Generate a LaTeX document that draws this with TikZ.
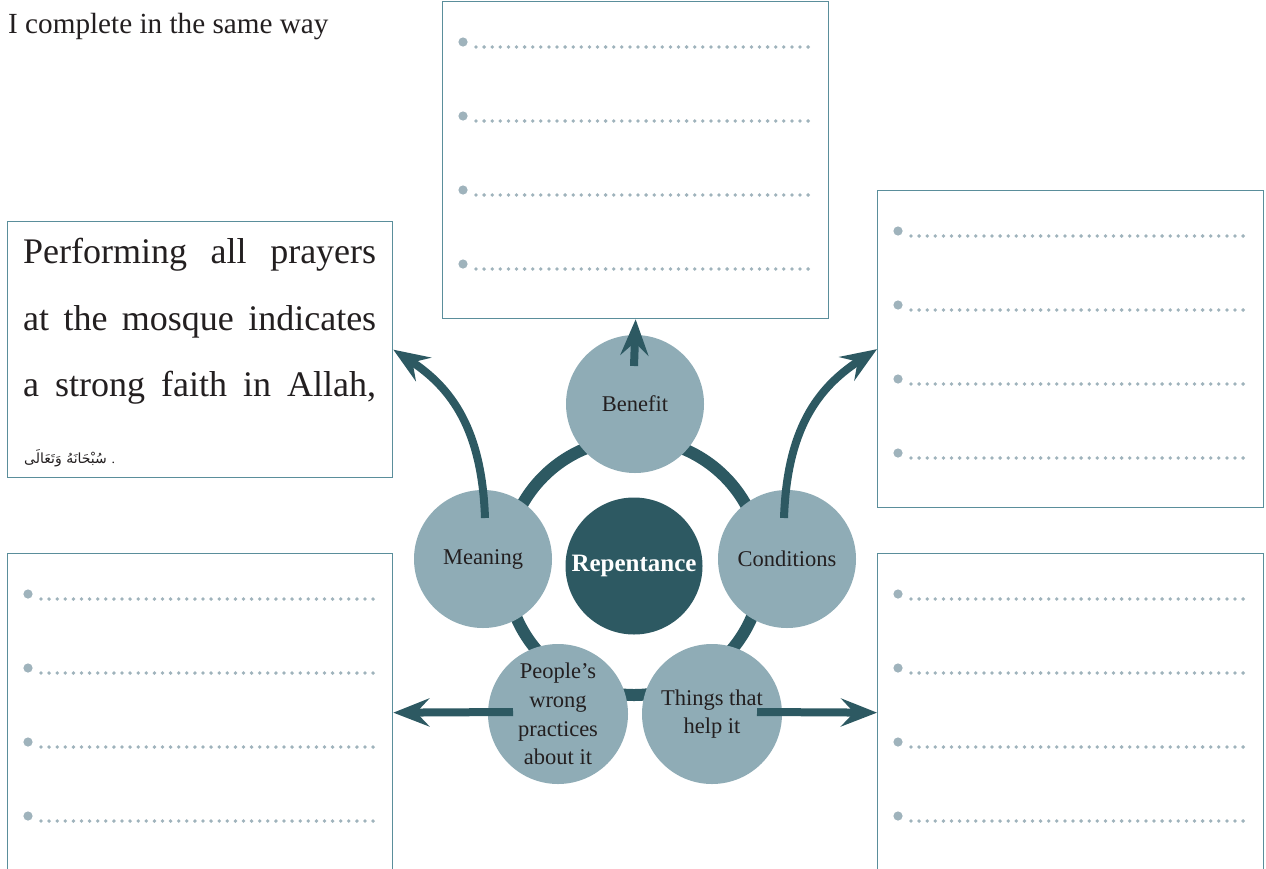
\documentclass[tikz,border=0pt]{standalone}
\usepackage{fontspec}
\setmainfont{Liberation Serif}
\newfontfamily\arabicfont[Script=Arabic]{DejaVu Sans}
\usetikzlibrary{arrows.meta}
\TeXXeTstate=1

\definecolor{deepteal}{HTML}{2D5962}
\definecolor{paleteal}{HTML}{8FACB6}
\definecolor{frameteal}{HTML}{5A8E9B}
\definecolor{dotgrey}{HTML}{9FB3BC}
\definecolor{inkblack}{HTML}{231F20}

% blank answer rows: a bullet followed by a dotted line
\newcommand\answerrows[2]{%
  \begin{scope}[shift={(#1,#2)}]
    \foreach \r in {0,1,2,3}{
      \fill[dotgrey] (21,41+74*\r) circle[radius=4.6pt];
      \draw[dotrow] (34,46+74*\r) -- (367,46+74*\r);
    }
  \end{scope}}

\begin{document}
\begin{tikzpicture}[x=1pt,y=-1pt,
  framebox/.style={draw=frameteal, line width=1.3pt, fill=white,
    anchor=north west, inner sep=0pt},
  dotrow/.style={dotgrey, line width=3.8pt, line cap=round,
    dash pattern=on 0pt off 8.1pt},
  topic/.style={circle, fill=paleteal, minimum size=138pt, inner sep=0pt,
    text=inkblack, align=center,
    font=\fontsize{22.5}{28.7}\selectfont},
  hub/.style={circle, fill=deepteal, minimum size=137pt, inner sep=0pt,
    text=white, font=\fontsize{25}{30}\selectfont\bfseries},
  ring/.style={draw=deepteal, line width=12pt},
  pointer/.style={draw=deepteal, line width=8pt,
    -{Stealth[length=36pt, width=28pt, inset=13pt]}},
  wording/.style={inner sep=0pt, anchor=base west, text=inkblack,
    font=\fontsize{36}{40}\selectfont}
]
\useasboundingbox (0,0) rectangle (1266,868);

% heading
\node[anchor=base west, inner sep=0pt, text=inkblack,
  font=\fontsize{29.2}{33}\selectfont] (heading) at (8,33)
  {I complete in the same way};

% answer boxes
\node[framebox, minimum width=386pt, minimum height=317pt] (benefitbox) at (442,1) {};
\node[framebox, minimum width=386pt, minimum height=317pt] (conditionbox) at (877,190) {};
\node[framebox, minimum width=385pt, minimum height=256pt] (meaningbox) at (7,221) {};
\node[framebox, minimum width=385pt, minimum height=318pt] (wrongbox) at (7,553) {};
\node[framebox, minimum width=386pt, minimum height=318pt] (helpbox) at (877,553) {};

\answerrows{442}{1}
\answerrows{877}{190}
\answerrows{7}{553}
\answerrows{877}{553}

% worked example in the meaning box
\node[wording] (lineA) at (23,263) {\makebox[353pt][s]{Performing all prayers}};
\node[wording] (lineB) at (23,330) {\makebox[353pt][s]{at the mosque indicates}};
\node[wording] (lineC) at (23,396) {\makebox[353pt][s]{a strong faith in Allah,}};
\node[inner sep=0pt, anchor=base west, text=inkblack,
  font=\fontsize{14}{16}\selectfont] (lineD) at (24,463)
  {{\arabicfont\beginR سُبْحَانَهُ وَتَعَالَى\endR}\,\,.};

% ring joining the topics
\draw[ring] (634,567) circle[radius=128pt];

% topics around the hub
\node[hub] (hub) at (634,566) {Repentance};
\node[topic] (benefit) at (635,404) {Benefit};
\node[topic] (meaning) at (483,559) {Meaning};
\node[topic] (conditions) at (787,559) {Conditions};
\node[topic, minimum size=140pt] (wrong) at (558,714)
  {People’s\\wrong\\practices\\about it};
\node[topic, minimum size=140pt] (help) at (712,714) {Things that\\help it};

% arrows from the topics to their boxes
\coordinate (benefitstart) at (634,366);
\coordinate (meaningstart) at (485,518);
\coordinate (conditionstart) at (784,518);
\coordinate (wrongstart) at (513,712);
\coordinate (helpstart) at (757,712);

\draw[pointer] (benefitstart) -- (benefitbox.south);
\draw[pointer] (meaningstart) .. controls (482,430) and (452,388) .. (meaningbox.east);
\draw[pointer] (conditionstart) .. controls (787,430) and (817,388) .. (conditionbox.west);
\draw[pointer] (wrongstart) -- (wrongbox.east);
\draw[pointer] (helpstart) -- (helpbox.west);
\end{tikzpicture}
\end{document}
